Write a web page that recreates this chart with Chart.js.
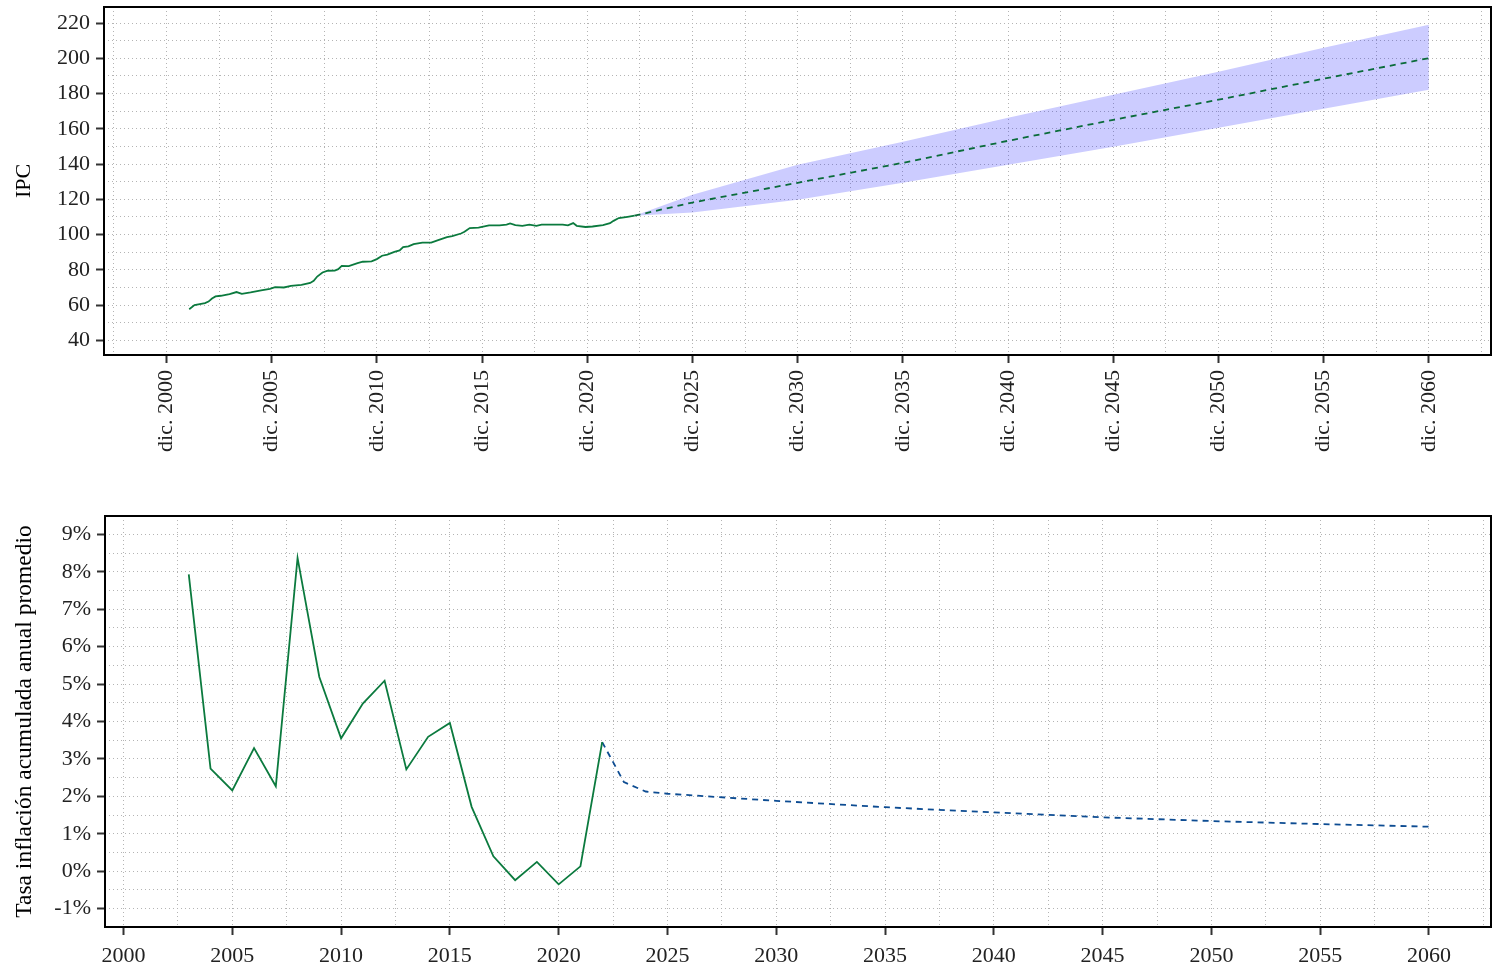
<!DOCTYPE html>
<html lang="es">
<head>
<meta charset="utf-8">
<title>IPC y tasa de inflación</title>
<script src="https://cdn.jsdelivr.net/npm/chart.js@4.4.1/dist/chart.umd.min.js"></script>
<style>
  html, body { margin: 0; padding: 0; background: #fff; }
  #lienzo { position: relative; width: 1494px; height: 972px; overflow: hidden; }
  canvas { position: absolute; left: 0; }
  #graficoIpc { top: 0; width: 1494px; height: 490px; }
  #graficoTasa { top: 490px; width: 1494px; height: 482px; }
</style>
</head>
<body>
<div id="lienzo">
  <canvas id="graficoIpc" width="1494" height="490"></canvas>
  <canvas id="graficoTasa" width="1494" height="482"></canvas>
</div>
<script>
// ---- Serie histórica del IPC (mes, valor) ----
const ipcMeses = [
  '2002-01', '2002-04', '2002-07', '2002-10', '2002-12', '2003-02', '2003-04', '2003-07', '2003-12',
  '2004-04', '2004-07', '2004-12', '2005-06', '2005-11', '2006-02', '2006-07', '2006-11', '2007-05',
  '2007-10', '2007-12', '2008-02', '2008-05', '2008-08', '2008-12', '2009-02', '2009-04', '2009-08',
  '2010-01', '2010-04', '2010-09', '2010-12', '2011-03', '2011-06', '2011-10', '2012-01', '2012-03',
  '2012-06', '2012-09', '2013-02', '2013-07', '2013-11', '2014-04', '2014-07', '2014-12', '2015-02',
  '2015-05', '2015-10', '2016-04', '2016-10', '2017-02', '2017-04', '2017-07', '2017-11', '2018-03',
  '2018-07', '2018-10', '2019-04', '2019-10', '2020-01', '2020-04', '2020-06', '2020-11', '2021-03',
  '2021-09', '2022-01', '2022-03', '2022-06', '2022-11', '2023-03'
];
const ipcValores = [
  57.7, 60.0, 60.6, 61.1, 62.0, 63.7, 64.9, 65.3, 66.2,
  67.4, 66.4, 67.2, 68.3, 69.2, 70.2, 70.0, 70.9, 71.5,
  72.6, 73.8, 76.2, 78.5, 79.5, 79.6, 80.4, 82.3, 82.1,
  83.8, 84.6, 84.8, 86.1, 88.0, 88.7, 90.2, 91.0, 92.9,
  93.3, 94.6, 95.5, 95.5, 96.9, 98.6, 99.1, 100.6, 101.6,
  103.7, 104.0, 105.2, 105.2, 105.6, 106.3, 105.4, 105.0, 105.6,
  105.0, 105.6, 105.6, 105.7, 105.2, 106.5, 105.0, 104.3, 104.6,
  105.4, 106.5, 107.8, 109.4, 110.1, 110.7
];

// ---- Proyección del IPC con su banda ----
const proyMeses = ['2023-03', '2025-12', '2030-12', '2035-12', '2040-12', '2045-12', '2050-12', '2055-12', '2060-12'];
const proyCentral = [110.7, 118.2, 129.4, 140.7, 153.2, 165.1, 176.5, 188.4, 200.1];
const proySuperior = [110.7, 122.6, 139.6, 152.7, 166.3, 179.3, 192.4, 206.0, 219.0];
const proyInferior = [110.7, 112.5, 119.7, 129.4, 139.6, 149.8, 160.6, 171.4, 182.2];

// ---- Tasa de inflación acumulada anual promedio (%) ----
const tasaAnios = [2003, 2004, 2005, 2006, 2007, 2008, 2009, 2010, 2011, 2012,
                   2013, 2014, 2015, 2016, 2017, 2018, 2019, 2020, 2021, 2022];
const tasaValores = [7.93, 2.74, 2.16, 3.29, 2.27, 8.37, 5.19, 3.55, 4.48, 5.09,
                     2.72, 3.59, 3.96, 1.72, 0.40, -0.24, 0.25, -0.35, 0.13, 3.45];
const tasaProyAnios = [2022, 2023, 2024, 2025, 2030, 2035, 2040, 2045, 2050, 2055, 2060];
const tasaProyValores = [3.45, 2.38, 2.13, 2.07, 1.88, 1.71, 1.57, 1.44, 1.34, 1.26, 1.19];

// ---- Etiquetas de los ejes ----
const aniosEtiqueta = [2000, 2005, 2010, 2015, 2020, 2025, 2030, 2035, 2040, 2045, 2050, 2055, 2060];
const ipcEtiquetas = [40, 60, 80, 100, 120, 140, 160, 180, 200, 220];
const tasaEtiquetas = [-1, 0, 1, 2, 3, 4, 5, 6, 7, 8, 9];

// ---- Estilo ----
const FUENTE = "'Liberation Serif', 'Times New Roman', serif";
const VERDE = '#0b7a3e';
const VERDE_PROY = '#0a6b3a';
const AZUL_PROY = '#0d4c92';
const BANDA = 'rgba(0, 0, 255, 0.2)';
const REJILLA = '#b4b4b4';
const MARCA = '#333333';
const DIC = 11 / 12;

Chart.defaults.font.family = FUENTE;
Chart.defaults.font.size = 22;
Chart.defaults.color = '#222';

const mesADecimal = m => {
  const [a, mm] = m.split('-').map(Number);
  return a + (mm - 1) / 12;
};
const cerca = (a, b) => Math.abs(a - b) < 1e-6;

// Marcas intermedias entre etiquetas (cada media división)
function marcasIntermedias(mayores, paso, min, max) {
  const out = [];
  const ini = mayores[0] - paso * Math.ceil((mayores[0] - min) / paso);
  for (let v = ini; v <= max + 1e-9; v = +(v + paso).toFixed(6)) {
    if (v >= min - 1e-9) out.push({ value: v });
  }
  return out;
}

// Fija el tamaño del eje y anula el margen extra que Chart.js reserva para las etiquetas
function fijarTamano(prop, px) {
  return s => {
    s[prop] = px;
    s.paddingTop = 0; s.paddingBottom = 0; s.paddingLeft = 0; s.paddingRight = 0;
  };
}

// Marco negro alrededor del área de trazado
const marco = {
  id: 'marco',
  afterDatasetsDraw(chart) {
    const { ctx, chartArea: a } = chart;
    ctx.save();
    ctx.strokeStyle = '#000';
    ctx.lineWidth = 2;
    ctx.strokeRect(a.left, a.top, a.right - a.left, a.bottom - a.top);
    ctx.restore();
  }
};

function rejilla(esMayor) {
  return {
    color: REJILLA,
    lineWidth: 1,
    drawTicks: true,
    tickLength: 8,
    tickWidth: 2,
    tickBorderDash: [],
    tickColor: ctx => (ctx.tick && esMayor(ctx.tick.value)) ? MARCA : 'rgba(0,0,0,0)'
  };
}
const borde = { display: false, dash: [1, 3] };

// ================= Gráfico superior: IPC =================
const ipcXMayores = aniosEtiqueta.map(a => a + DIC);
const esMayorIpcX = v => ipcXMayores.some(m => cerca(m, v));
const esMayorIpcY = v => ipcEtiquetas.some(m => cerca(m, v));
const IPC_X_MIN = 1997.95, IPC_X_MAX = 2063.87;
const IPC_Y_MIN = 31.7, IPC_Y_MAX = 229.1;

new Chart(document.getElementById('graficoIpc'), {
  type: 'line',
  data: {
    datasets: [
      {
        label: 'IPC',
        data: ipcMeses.map((m, i) => ({ x: mesADecimal(m), y: ipcValores[i] })),
        borderColor: VERDE, borderWidth: 1.8, pointRadius: 0, fill: false, tension: 0
      },
      {
        label: 'IPC proyectado',
        data: proyMeses.map((m, i) => ({ x: mesADecimal(m), y: proyCentral[i] })),
        borderColor: VERDE_PROY, borderWidth: 1.8, borderDash: [6, 5], pointRadius: 0, fill: false, tension: 0
      },
      {
        label: 'Límite inferior',
        data: proyMeses.map((m, i) => ({ x: mesADecimal(m), y: proyInferior[i] })),
        borderColor: 'rgba(0,0,0,0)', borderWidth: 0, pointRadius: 0, fill: false, tension: 0
      },
      {
        label: 'Límite superior',
        data: proyMeses.map((m, i) => ({ x: mesADecimal(m), y: proySuperior[i] })),
        borderColor: 'rgba(0,0,0,0)', borderWidth: 0, pointRadius: 0,
        fill: 2, backgroundColor: BANDA, tension: 0
      }
    ]
  },
  options: {
    responsive: false,
    animation: false,
    devicePixelRatio: 1,
    layout: { padding: { left: 0, right: 3, top: 7, bottom: 0 } },
    plugins: { legend: { display: false }, tooltip: { enabled: false } },
    scales: {
      x: {
        type: 'linear',
        min: IPC_X_MIN, max: IPC_X_MAX,
        afterBuildTicks: s => { s.ticks = marcasIntermedias(ipcXMayores, 2.5, IPC_X_MIN, IPC_X_MAX); },
        afterFit: fijarTamano('height', 135),
        grid: rejilla(esMayorIpcX),
        border: borde,
        ticks: {
          autoSkip: false, minRotation: 90, maxRotation: 90, padding: 7,
          callback: v => esMayorIpcX(v) ? 'dic. ' + Math.round(v - DIC) : ''
        }
      },
      y: {
        type: 'linear',
        min: IPC_Y_MIN, max: IPC_Y_MAX,
        afterBuildTicks: s => { s.ticks = marcasIntermedias(ipcEtiquetas, 10, IPC_Y_MIN, IPC_Y_MAX); },
        afterFit: fijarTamano('width', 104),
        grid: rejilla(esMayorIpcY),
        border: borde,
        title: { display: true, text: 'IPC', color: '#000', font: { size: 22 }, padding: { top: 11, bottom: 0 } },
        ticks: {
          autoSkip: false, padding: 6,
          callback: v => esMayorIpcY(v) ? String(Math.round(v)) : ''
        }
      }
    }
  },
  plugins: [marco]
});

// ================= Gráfico inferior: tasa de inflación =================
const esMayorTasaX = v => aniosEtiqueta.some(m => cerca(m, v));
const esMayorTasaY = v => tasaEtiquetas.some(m => cerca(m, v));
const TASA_X_MIN = 1999.15, TASA_X_MAX = 2062.85;
const TASA_Y_MIN = -1.49, TASA_Y_MAX = 9.49;

new Chart(document.getElementById('graficoTasa'), {
  type: 'line',
  data: {
    datasets: [
      {
        label: 'Tasa observada',
        data: tasaAnios.map((a, i) => ({ x: a, y: tasaValores[i] })),
        borderColor: VERDE, borderWidth: 1.8, pointRadius: 0, fill: false, tension: 0
      },
      {
        label: 'Tasa proyectada',
        data: tasaProyAnios.map((a, i) => ({ x: a, y: tasaProyValores[i] })),
        borderColor: AZUL_PROY, borderWidth: 1.8, borderDash: [6, 5], pointRadius: 0, fill: false, tension: 0
      }
    ]
  },
  options: {
    responsive: false,
    animation: false,
    devicePixelRatio: 1,
    layout: { padding: { left: 0, right: 3, top: 26, bottom: 0 } },
    plugins: { legend: { display: false }, tooltip: { enabled: false } },
    scales: {
      x: {
        type: 'linear',
        min: TASA_X_MIN, max: TASA_X_MAX,
        afterBuildTicks: s => { s.ticks = marcasIntermedias(aniosEtiqueta, 2.5, TASA_X_MIN, TASA_X_MAX); },
        afterFit: fijarTamano('height', 45),
        grid: rejilla(esMayorTasaX),
        border: borde,
        ticks: {
          autoSkip: false, maxRotation: 0, minRotation: 0, padding: 8,
          callback: v => esMayorTasaX(v) ? String(Math.round(v)) : ''
        }
      },
      y: {
        type: 'linear',
        min: TASA_Y_MIN, max: TASA_Y_MAX,
        afterBuildTicks: s => { s.ticks = marcasIntermedias(tasaEtiquetas, 0.5, TASA_Y_MIN, TASA_Y_MAX); },
        afterFit: fijarTamano('width', 105),
        grid: rejilla(esMayorTasaY),
        border: borde,
        title: {
          display: true, text: 'Tasa inflación acumulada anual promedio', color: '#000',
          font: { size: 23.5 }, padding: { top: 11, bottom: 0 }
        },
        ticks: {
          autoSkip: false, padding: 6,
          callback: v => esMayorTasaY(v) ? Math.round(v) + '%' : ''
        }
      }
    }
  },
  plugins: [marco]
});
</script>
</body>
</html>
